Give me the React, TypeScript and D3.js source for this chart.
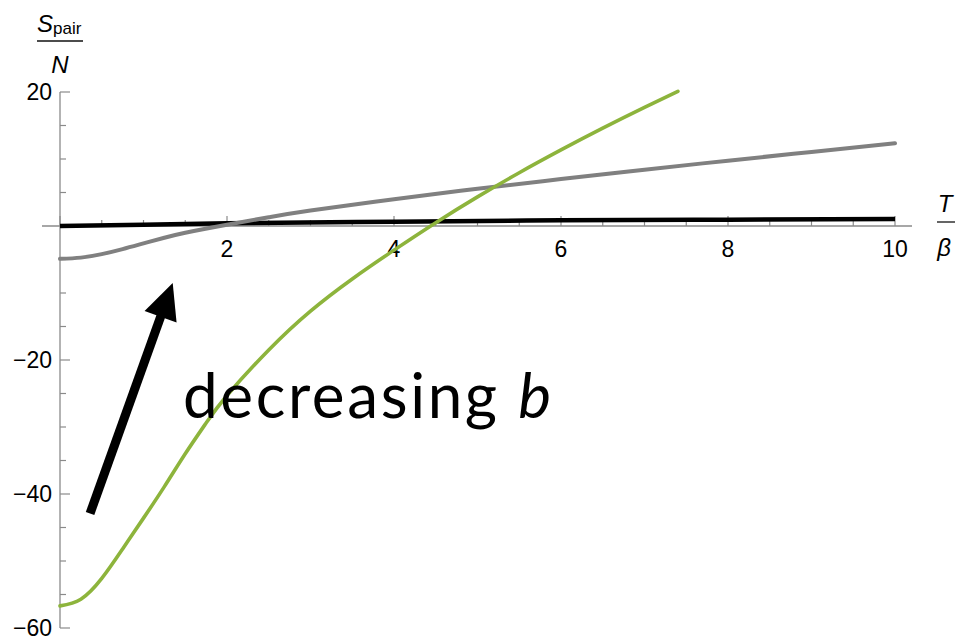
import React from "react";
import * as d3 from "d3";

// ---- data ----
const greenX = [0, 0.25, 0.5, 0.75, 1, 1.25, 1.5, 1.75, 2, 2.5, 3, 3.5, 4, 4.5, 5, 5.5, 6, 6.5, 7, 7.4];
const greenY = [-56.7, -55.7, -52.6, -48.2, -43.6, -38.9, -34.0, -29.4, -25.3, -18.5, -12.7, -7.9, -3.6, 0.5, 4.35, 7.95, 11.35, 14.6, 17.7, 20.1];

const grayX = [0, 0.25, 0.5, 0.75, 1, 1.25, 1.5, 2, 2.5, 3, 4, 5, 6, 7, 8, 9, 10];
const grayY = [-4.9, -4.72, -4.2, -3.45, -2.6, -1.75, -1.0, 0.2, 1.3, 2.3, 4.0, 5.55, 7.0, 8.4, 9.75, 11.05, 12.35];

const blackX = [0, 1, 2, 4, 6, 8, 10];
const blackY = [0, 0.2, 0.4, 0.65, 0.85, 0.95, 1.05];

const xTickLabels = [2, 4, 6, 8, 10];
const yTickLabels = [20, -20, -40, -60];

// arrow in data coordinates (tail, tip)
const arrowTail = [0.36, -42.9];
const arrowTip = [1.35, -8.5];

const W = 957;
const H = 640;

export default function App() {
  const x = d3.scaleLinear().domain([0, 10]).range([60, 895]);
  const y = d3.scaleLinear().domain([-60, 20]).range([628, 92]);

  const line = d3
    .line<[number, number]>()
    .x((d) => x(d[0]))
    .y((d) => y(d[1]))
    .curve(d3.curveNatural);

  const green = line(greenX.map((v, i) => [v, greenY[i]] as [number, number])) || "";
  const gray = line(grayX.map((v, i) => [v, grayY[i]] as [number, number])) || "";
  const black = line(blackX.map((v, i) => [v, blackY[i]] as [number, number])) || "";

  const xMinor = d3.range(0, 10.001, 0.5);
  const yMinor = d3.range(-60, 20.001, 5);

  const axisColor = "#8a8a8a";
  const tickFont = "'Liberation Sans', Arial, sans-serif";

  // arrow geometry
  const tx = x(arrowTail[0]);
  const ty = y(arrowTail[1]);
  const hx = x(arrowTip[0]);
  const hy = y(arrowTip[1]);
  const ang = Math.atan2(hy - ty, hx - tx);
  const headLen = 36;
  const headHalf = 17;
  const bx = hx - headLen * Math.cos(ang);
  const by = hy - headLen * Math.sin(ang);
  const px = -Math.sin(ang);
  const py = Math.cos(ang);
  const head = `M${hx},${hy}L${bx + headHalf * px},${by + headHalf * py}L${bx - headHalf * px},${by - headHalf * py}Z`;

  return (
    <svg
      width={W}
      height={H}
      style={{ position: "absolute", left: 0, top: 0, background: "#fff" }}
    >
      {/* axes */}
      <line x1={42} x2={912} y1={y(0)} y2={y(0)} stroke={axisColor} strokeWidth={1.3} />
      <line x1={x(0)} x2={x(0)} y1={y(20)} y2={y(-60)} stroke={axisColor} strokeWidth={1.3} />

      {/* x ticks */}
      {xMinor.map((t) => {
        const major = Math.abs(t % 2) < 1e-9;
        return (
          <line
            key={"xt" + t}
            x1={x(t)}
            x2={x(t)}
            y1={y(0)}
            y2={y(0) - (major ? 10 : 6)}
            stroke={axisColor}
            strokeWidth={1.2}
          />
        );
      })}
      {/* y ticks */}
      {yMinor.map((t) => {
        const major = Math.abs(t % 20) < 1e-9;
        return (
          <line
            key={"yt" + t}
            x1={x(0)}
            x2={x(0) + (major ? 10 : 6)}
            y1={y(t)}
            y2={y(t)}
            stroke={axisColor}
            strokeWidth={1.2}
          />
        );
      })}

      {/* tick labels */}
      {xTickLabels.map((t) => (
        <text
          key={"xl" + t}
          x={x(t)}
          y={257}
          textAnchor="middle"
          fontFamily={tickFont}
          fontSize={23}
          fill="#000"
        >
          {t}
        </text>
      ))}
      {yTickLabels.map((t) => (
        <text
          key={"yl" + t}
          x={52}
          y={y(t)}
          dy="0.36em"
          textAnchor="end"
          fontFamily={tickFont}
          fontSize={23}
          fill="#000"
        >
          {t < 0 ? "\u2212" + Math.abs(t) : String(t)}
        </text>
      ))}

      {/* y axis label S_pair / N */}
      <g fontFamily={tickFont} fill="#000">
        <text x={37} y={32} fontSize={24} fontStyle="italic">
          S
          <tspan fontStyle="normal" fontSize={17} dy={2}>
            pair
          </tspan>
        </text>
        <line x1={37} x2={83} y1={41} y2={41} stroke="#111" strokeWidth={1.3} />
        <text x={60} y={73} fontSize={24} fontStyle="italic" textAnchor="middle">
          N
        </text>
      </g>

      {/* x axis label T / beta */}
      <g fontFamily={tickFont} fill="#000">
        <text x={945} y={212} fontSize={24} fontStyle="italic" textAnchor="middle">
          T
        </text>
        <line x1={937} x2={955} y1={222} y2={222} stroke="#111" strokeWidth={1.3} />
        <text x={944} y={256} fontSize={24} fontStyle="italic" textAnchor="middle">
          β
        </text>
      </g>

      {/* curves */}
      <path d={black} fill="none" stroke="#000" strokeWidth={4.5} />
      <path d={gray} fill="none" stroke="#808080" strokeWidth={4} strokeLinecap="round" />
      <path d={green} fill="none" stroke="#8db43c" strokeWidth={3.6} strokeLinecap="round" />

      {/* arrow */}
      <line
        x1={tx}
        y1={ty}
        x2={bx + 2 * Math.cos(ang)}
        y2={by + 2 * Math.sin(ang)}
        stroke="#000"
        strokeWidth={9}
      />
      <path d={head} fill="#000" />

      {/* annotation */}
      <text
        x={183}
        y={418}
        fontFamily="Lato, 'Noto Sans', sans-serif"
        fontWeight={400}
        fontSize={62}
        fill="#000"
        textLength={368}
        lengthAdjust="spacing"
      >
        decreasing <tspan fontStyle="italic">b</tspan>
      </text>
    </svg>
  );
}
